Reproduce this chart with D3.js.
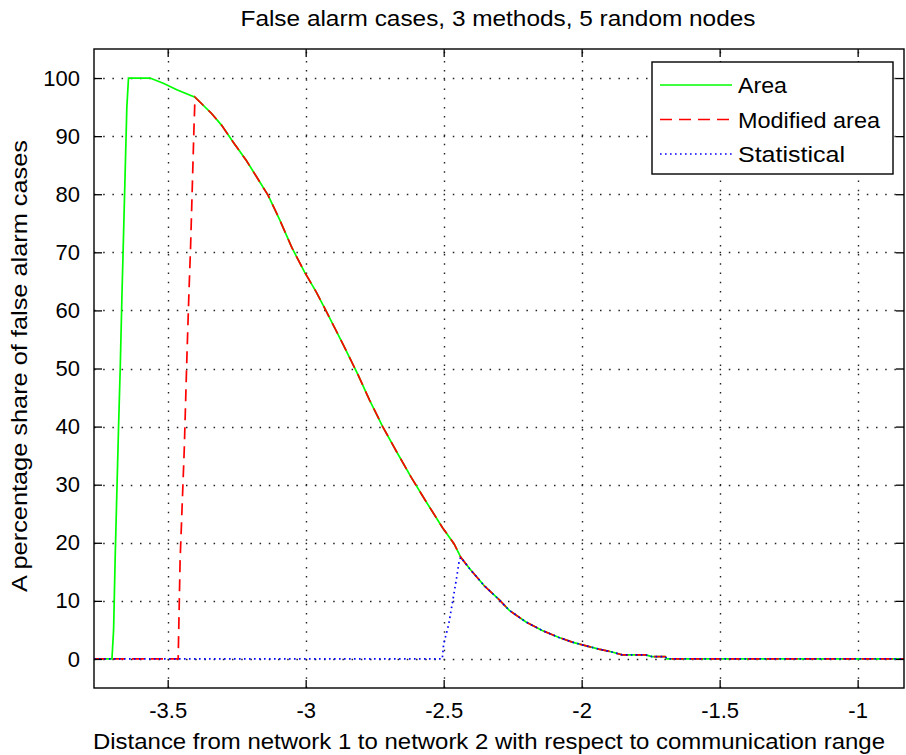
<!DOCTYPE html>
<html>
<head>
<meta charset="utf-8">
<script src="https://cdn.jsdelivr.net/npm/d3@7"></script>
<style>
  body { margin: 0; background: #fff; }
  text { font-family: "Liberation Sans", Arial, sans-serif; fill: #000; }
</style>
</head>
<body>
<script>
// tick values
var xTicks = [-3.5, -3, -2.5, -2, -1.5, -1];
var yTicks = [0, 10, 20, 30, 40, 50, 60, 70, 80, 90, 100];

// shared falling part of the curves
var tailX = [-3.401, -3.341, -3.305, -3.263, -3.215, -3.178, -3.136, -3.094, -3.050, -3.004,
  -2.962, -2.928, -2.865, -2.811, -2.769, -2.721, -2.672, -2.618, -2.564, -2.504,
  -2.462, -2.438, -2.407, -2.353, -2.299, -2.263, -2.203, -2.143, -2.082, -2.034,
  -2.004, -1.938, -1.890, -1.853, -1.769, -1.745, -1.697, -1.691, -0.832];
var tailY = [96.7, 93.9, 91.9, 89.0, 85.8, 83.0, 79.8, 75.6, 70.8, 66.6,
  63.2, 60.1, 54.2, 49.0, 44.6, 40.0, 35.8, 31.3, 27.1, 22.6,
  19.8, 17.5, 15.6, 12.6, 10.2, 8.4, 6.4, 4.9, 3.7, 2.9,
  2.5, 1.7, 1.2, 0.7, 0.7, 0.4, 0.4, 0, 0];

// Area
var areaX = [-3.767, -3.702, -3.696, -3.690, -3.684, -3.678, -3.672, -3.666, -3.660, -3.654,
  -3.648, -3.642, -3.564, -3.516, -3.467].concat(tailX);
var areaY = [0, 0, 5, 18, 29, 40, 50, 62, 73, 84,
  95, 100, 100, 99.1, 98.0].concat(tailY);

// Modified area
var modX = [-3.767, -3.462, -3.455, -3.440, -3.431, -3.423, -3.417, -3.411, -3.405].concat(tailX);
var modY = [0, 0, 17, 36, 51, 63, 71, 81, 91].concat(tailY);

// Statistical
var statX = [-3.767, -2.505, -2.500, -2.482, -2.465, -2.453, -2.443].concat(tailX.slice(21));
var statY = [0, 0, 2.6, 5.9, 10.6, 14.0, 17.1].concat(tailY.slice(21));

var series = [
  { name: "Area", xs: areaX, ys: areaY, color: "#00ff00", dash: null },
  { name: "Modified area", xs: modX, ys: modY, color: "#ff0000", dash: "12,7" },
  { name: "Statistical", xs: statX, ys: statY, color: "#0000ff", dash: "1.6,3.4" }
];

var width = 906,
  height = 755,
  plotLeft = 94,
  plotRight = 904,
  plotTop = 49,
  plotBottom = 688;

var svg = d3.select("body")
  .append("svg")
  .attr("width", width)
  .attr("height", height);

var xScale = d3.scaleLinear()
  .domain([-3.767, -0.832])
  .range([plotLeft, plotRight]);

var yScale = d3.scaleLinear()
  .domain([-5, 105])
  .range([plotBottom, plotTop]);

//----------grid----------
var grid = svg.append("g")
  .attr("stroke", "#222")
  .attr("stroke-width", 1.4)
  .attr("stroke-dasharray", "1.5,7.7");

grid.selectAll("line.gx")
  .data(xTicks)
  .enter()
  .append("line")
  .attr("class", "gx")
  .attr("x1", function (d) { return Math.round(xScale(d)) + 0.5; })
  .attr("x2", function (d) { return Math.round(xScale(d)) + 0.5; })
  .attr("y1", plotBottom)
  .attr("y2", plotTop);

grid.selectAll("line.gy")
  .data(yTicks)
  .enter()
  .append("line")
  .attr("class", "gy")
  .attr("x1", plotLeft)
  .attr("x2", plotRight)
  .attr("y1", function (d) { return Math.round(yScale(d)) + 0.5; })
  .attr("y2", function (d) { return Math.round(yScale(d)) + 0.5; });

//----------data lines----------
var line = d3.line()
  .x(function (d) { return xScale(d[0]); })
  .y(function (d) { return yScale(d[1]); });

svg.selectAll("path.series")
  .data(series)
  .enter()
  .append("path")
  .attr("class", "series")
  .attr("fill", "none")
  .attr("stroke", function (d) { return d.color; })
  .attr("stroke-width", 1.7)
  .attr("stroke-dasharray", function (d) { return d.dash; })
  .attr("d", function (d) {
    return line(d.xs.map(function (x, i) { return [x, d.ys[i]]; }));
  });

//----------axes (box with inward ticks)----------
var tickLen = 8;
var plain = function (d) { return String(d); };
var xAxisB = d3.axisBottom(xScale).tickValues(xTicks).tickSizeInner(-tickLen).tickSizeOuter(0)
  .tickPadding(14).tickFormat(plain);
var xAxisT = d3.axisTop(xScale).tickValues(xTicks).tickSizeInner(-tickLen).tickSizeOuter(0)
  .tickFormat("");
var yAxisL = d3.axisLeft(yScale).tickValues(yTicks).tickSizeInner(-tickLen).tickSizeOuter(0)
  .tickPadding(14).tickFormat(plain);
var yAxisR = d3.axisRight(yScale).tickValues(yTicks).tickSizeInner(-tickLen).tickSizeOuter(0)
  .tickFormat("");

function styleAxis(g) {
  g.select(".domain").remove();
  g.selectAll("line").attr("stroke", "#000").attr("stroke-width", 1.3);
  g.selectAll("text")
    .style("font-family", "'Liberation Sans', Arial, sans-serif")
    .style("font-size", "22px")
    .attr("fill", "#000");
}

svg.append("g").attr("transform", "translate(0," + plotBottom + ")").call(xAxisB).call(styleAxis);
svg.append("g").attr("transform", "translate(0," + plotTop + ")").call(xAxisT).call(styleAxis);
svg.append("g").attr("transform", "translate(" + plotLeft + ",0)").call(yAxisL).call(styleAxis);
svg.append("g").attr("transform", "translate(" + plotRight + ",0)").call(yAxisR).call(styleAxis);

svg.append("rect")
  .attr("x", plotLeft)
  .attr("y", plotTop)
  .attr("width", plotRight - plotLeft)
  .attr("height", plotBottom - plotTop)
  .attr("fill", "none")
  .attr("stroke", "#000")
  .attr("stroke-width", 1.4);

//----------legend----------
var legend = svg.append("g").attr("transform", "translate(652,62)");

legend.append("rect")
  .attr("width", 241)
  .attr("height", 112)
  .attr("fill", "#fff")
  .attr("stroke", "#000")
  .attr("stroke-width", 1.4);

var item = legend.selectAll("g.item")
  .data(series)
  .enter()
  .append("g")
  .attr("class", "item")
  .attr("transform", function (d, i) { return "translate(0," + (23 + i * 34.5) + ")"; });

item.append("line")
  .attr("x1", 8)
  .attr("x2", 80)
  .attr("stroke", function (d) { return d.color; })
  .attr("stroke-width", 1.7)
  .attr("stroke-dasharray", function (d) { return d.dash; });

var legendWidths = { "Area": 49, "Modified area": 142, "Statistical": 107 };
item.append("text")
  .attr("x", 86)
  .attr("y", 8)
  .style("font-size", "22px")
  .attr("textLength", function (d) { return legendWidths[d.name]; })
  .attr("lengthAdjust", "spacingAndGlyphs")
  .text(function (d) { return d.name; });

//----------labels----------
svg.append("text")
  .attr("x", 498)
  .attr("y", 26)
  .attr("text-anchor", "middle")
  .style("font-size", "22px")
  .attr("textLength", 515)
  .attr("lengthAdjust", "spacingAndGlyphs")
  .text("False alarm cases, 3 methods, 5 random nodes");

svg.append("text")
  .attr("x", 489)
  .attr("y", 749)
  .attr("text-anchor", "middle")
  .style("font-size", "22px")
  .attr("textLength", 792)
  .attr("lengthAdjust", "spacingAndGlyphs")
  .text("Distance from network 1 to network 2 with respect to communication range");

svg.append("text")
  .attr("transform", "translate(27," + 366 + ") rotate(-90)")
  .attr("text-anchor", "middle")
  .style("font-size", "22px")
  .attr("textLength", 452)
  .attr("lengthAdjust", "spacingAndGlyphs")
  .text("A percentage share of false alarm cases");
</script>
</body>
</html>
